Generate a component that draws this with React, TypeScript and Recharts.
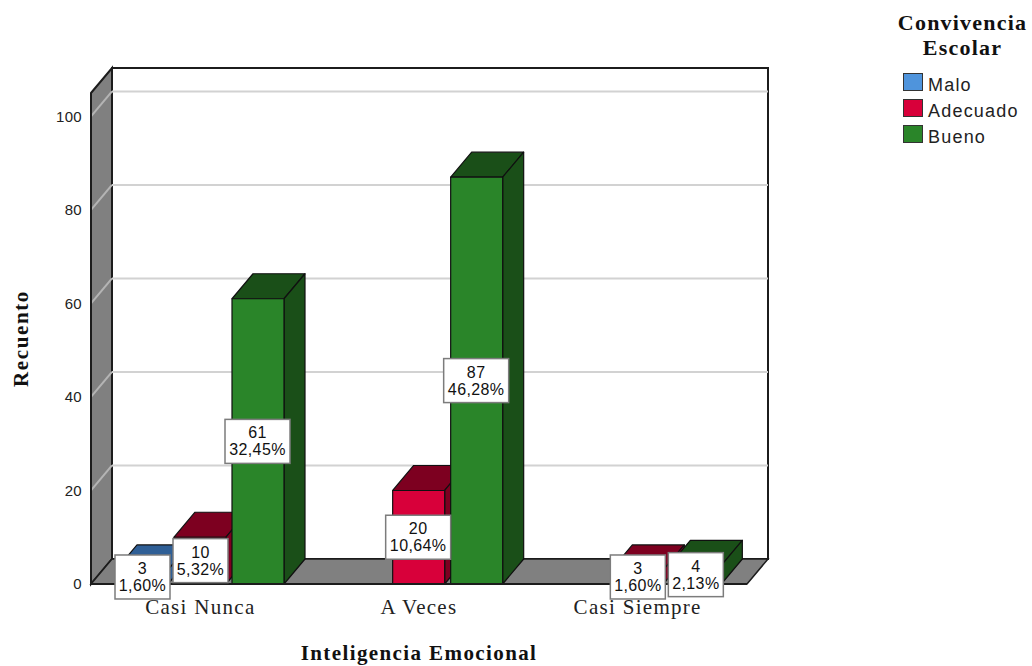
import { BarChart, Bar, XAxis, YAxis, Legend, LabelList, ReferenceArea } from 'recharts';

const categories = ['Casi Nunca', 'A Veces', 'Casi Siempre'];
const maloValues = [3, null, null];
const adecuadoValues = [10, 20, 3];
const buenoValues = [61, 87, 4];
const maloPct = ['1,60%', '', ''];
const adecuadoPct = ['5,32%', '10,64%', '1,60%'];
const buenoPct = ['32,45%', '46,28%', '2,13%'];
const yTicks = [0, 20, 40, 60, 80, 100];

const data = categories.map((name, i) => ({
  name,
  malo: maloValues[i],
  adecuado: adecuadoValues[i],
  bueno: buenoValues[i],
}));

/* ─── 3D look: everything is pushed back by this offset ───────────────────── */

const DX = 21;
const DY = -25;
const EDGE = '#1c1c1c';
const SERIF = '"Liberation Serif", serif';
const SANS = '"Liberation Sans", sans-serif';

function Walls({ x, y, width, height }: any) {
  const b = y + height;
  const r = x + width;
  return (
    <g>
      <rect x={x + DX} y={y + DY} width={width} height={height} fill="#fff" stroke={EDGE} strokeWidth={2} />
      <polygon
        points={`${x},${y} ${x + DX},${y + DY} ${x + DX},${b + DY} ${x},${b}`}
        fill="#808080" stroke={EDGE} strokeWidth={2}
      />
      <polygon
        points={`${x},${b} ${x + DX},${b + DY} ${r + DX},${b + DY} ${r},${b}`}
        fill="#808080" stroke={EDGE} strokeWidth={1.5}
      />
    </g>
  );
}

// zero-height reference area, so it stays in the same layer as the walls (under the bars)
function WallGrid({ x, y, width }: any) {
  return (
    <g fill="none" strokeWidth={2}>
      <line x1={x} y1={y} x2={x + DX} y2={y + DY} stroke="#b4b4b4" />
      <line x1={x + DX} y1={y + DY} x2={x + DX + width} y2={y + DY} stroke="#d2d2d2" />
    </g>
  );
}

function makeBox(dark: string) {
  return function Box3D({ x, y, width, height, fill }: any) {
    if (!height || height <= 0) return null;
    const r = x + width;
    const b = y + height;
    return (
      <g stroke="#101010" strokeWidth={1.2} strokeLinejoin="round">
        <polygon points={`${x},${y} ${x + DX},${y + DY} ${r + DX},${y + DY} ${r},${y}`} fill={dark} />
        <polygon points={`${r},${y} ${r + DX},${y + DY} ${r + DX},${b + DY} ${r},${b}`} fill={dark} />
        <rect x={x} y={y} width={width} height={height} fill={fill} />
      </g>
    );
  };
}

function makeValueLabel(pcts: string[]) {
  return function ValueLabel({ x, y, width, height, value, index }: any) {
    if (value === null || value === undefined) return null;
    const pct = pcts[index];
    const wide = pct.length > 5;
    const w = wide ? 65 : 55;
    const cx = x + width / 2 + (wide ? -0.5 : 0.5);
    const cy = y + height / 2;
    return (
      <g>
        <rect x={cx - w / 2} y={cy - 22} width={w} height={44} fill="#fff" stroke="#7c7c7c" strokeWidth={1.5} />
        <text x={cx} y={cy - 3} textAnchor="middle" fontFamily={SANS} fontSize={16} letterSpacing={0.4} fill="#111">{value}</text>
        <text x={cx} y={cy + 14} textAnchor="middle" fontFamily={SANS} fontSize={16} letterSpacing={0.4} fill="#111">{pct}</text>
      </g>
    );
  };
}

function LegendBox({ payload }: any) {
  return (
    <div style={{ width: 140 }}>
      <div style={{
        fontFamily: SERIF, fontWeight: 'bold', fontSize: 22, lineHeight: '25px', textAlign: 'center',
        letterSpacing: 1.2, color: '#111', marginBottom: 10, marginLeft: -1,
      }}>
        Convivencia<br />Escolar
      </div>
      {(payload || []).map((p: any) => (
        <div key={p.value} style={{ display: 'flex', alignItems: 'center', height: 26, paddingLeft: 10, position: 'relative', top: 2 }}>
          <span style={{ width: 18, height: 16, background: p.color, border: '1.5px solid #333', marginRight: 5, position: 'relative', top: -3 }} />
          <span style={{ fontFamily: SANS, fontSize: 18, letterSpacing: 1.2, color: '#222' }}>{p.value}</span>
        </div>
      ))}
    </div>
  );
}

export default function App() {
  return (
    <div style={{ position: 'absolute', left: 0, top: 0, width: 1032, height: 666, background: '#fff' }}>
      <BarChart
        width={1032} height={666} data={data}
        margin={{ left: 40, right: 285, top: 93, bottom: 32 }}
        barSize={52} barGap={6} barCategoryGap={22}
      >
        <ReferenceArea y1={0} y2={105} shape={Walls} />
        {yTicks.slice(1).map((t) => (
          <ReferenceArea key={t} y1={t} y2={t} shape={WallGrid} />
        ))}
        <XAxis
          dataKey="name" height={50} interval={0} tickLine={false} tickMargin={9}
          axisLine={{ stroke: EDGE, strokeWidth: 2 }}
          tick={{ fontFamily: SERIF, fontSize: 21, fill: '#222', letterSpacing: 1.3 }}
          label={{
            value: 'Inteligencia Emocional', position: 'insideBottom', offset: -26,
            style: { fontFamily: SERIF, fontSize: 21, fontWeight: 'bold', fill: '#111', letterSpacing: 1.4 },
          }}
        />
        <YAxis
          width={51} domain={[0, 105]} ticks={yTicks} tickLine={false} tickMargin={3}
          axisLine={{ stroke: EDGE, strokeWidth: 2 }}
          tick={{ fontFamily: SANS, fontSize: 15, fill: '#222', letterSpacing: 0.3 }}
          label={{
            value: 'Recuento', angle: -90, position: 'insideLeft', offset: -19,
            style: { fontFamily: SERIF, fontSize: 21, fontWeight: 'bold', fill: '#111', textAnchor: 'middle', letterSpacing: 1.6 },
          }}
        />
        <Legend
          content={<LegendBox />} layout="horizontal" verticalAlign="middle" align="center" itemSorter={null}
          wrapperStyle={{ left: 893, top: 10, width: 140 }}
        />
        <Bar dataKey="malo" name="Malo" fill="#4f94dc" shape={makeBox('#2f5f96')} isAnimationActive={false}>
          <LabelList dataKey="malo" content={makeValueLabel(maloPct)} />
        </Bar>
        <Bar dataKey="adecuado" name="Adecuado" fill="#d8003a" shape={makeBox('#7d0020')} isAnimationActive={false}>
          <LabelList dataKey="adecuado" content={makeValueLabel(adecuadoPct)} />
        </Bar>
        <Bar dataKey="bueno" name="Bueno" fill="#2a8529" shape={makeBox('#1a4f18')} isAnimationActive={false}>
          <LabelList dataKey="bueno" content={makeValueLabel(buenoPct)} />
        </Bar>
      </BarChart>
    </div>
  );
}
